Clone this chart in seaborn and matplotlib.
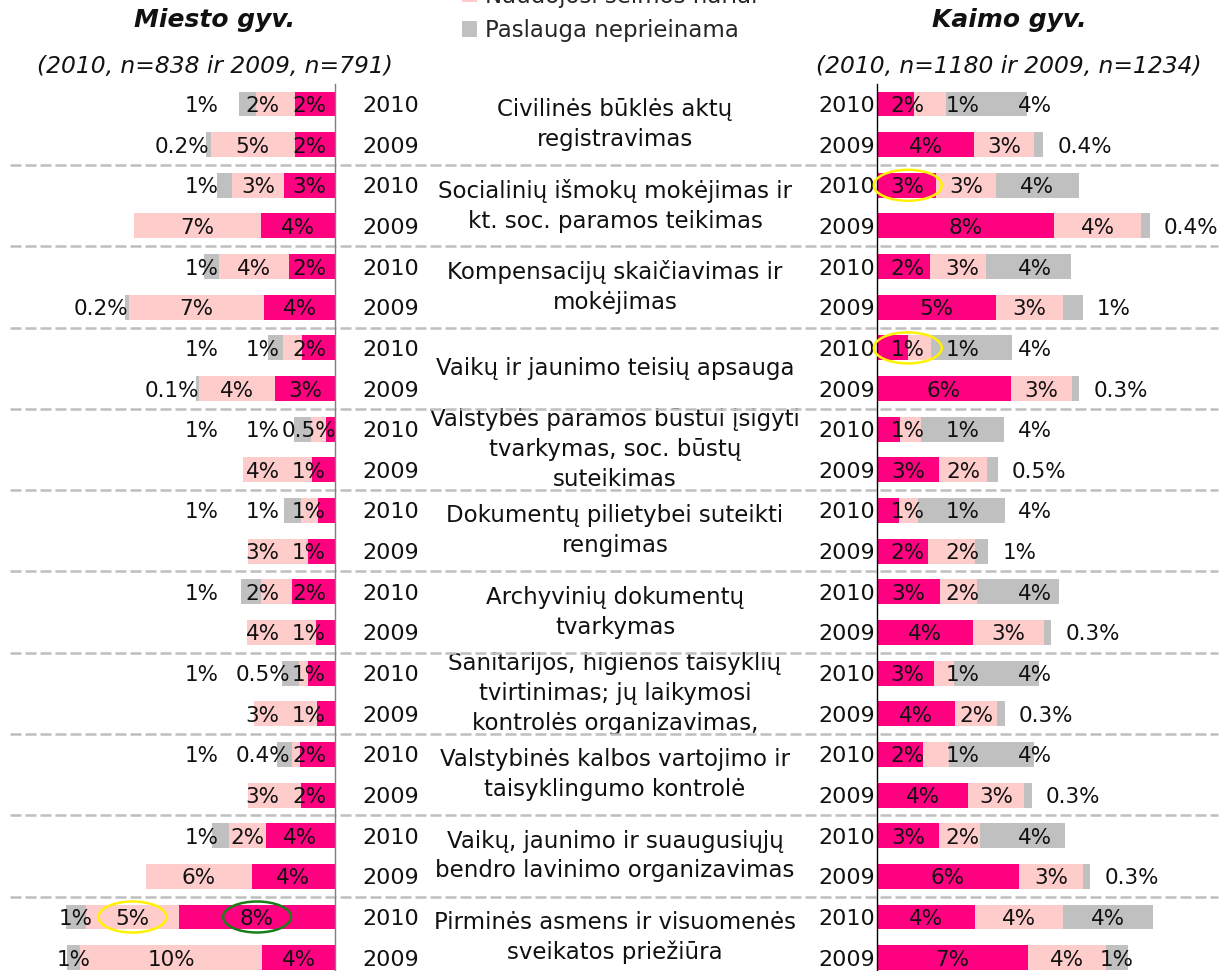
import numpy as np
import pandas as pd
import matplotlib
matplotlib.use("Agg")
import matplotlib.pyplot as plt
from matplotlib.patches import Ellipse, Patch
import seaborn as sns

# ---------------------------------------------------------------- data
categories = [
    "Civilinės būklės aktų\nregistravimas",
    "Socialinių išmokų mokėjimas ir\nkt. soc. paramos teikimas",
    "Kompensacijų skaičiavimas ir\nmokėjimas",
    "Vaikų ir jaunimo teisių apsauga",
    "Valstybės paramos būstui įsigyti\ntvarkymas, soc. būstų\nsuteikimas",
    "Dokumentų pilietybei suteikti\nrengimas",
    "Archyvinių dokumentų\ntvarkymas",
    "Sanitarijos, higienos taisyklių\ntvirtinimas; jų laikymosi\nkontrolės organizavimas,",
    "Valstybinės kalbos vartojimo ir\ntaisyklingumo kontrolė",
    "Vaikų, jaunimo ir suaugusiųjų\nbendro lavinimo organizavimas",
    "Pirminės asmens ir visuomenės\nsveikatos priežiūra",
]
years = ["2010", "2009"]
series_names = ["Naudojosi patys", "Naudojosi šeimos nariai", "Paslauga neprieinama"]

# rows: each category gives 2010 then 2009 (values in %)
city_self = [2.15, 2.15, 2.75, 3.98, 2.48, 3.82, 1.78, 3.23, 0.48, 1.24, 0.92,
             1.45, 2.32, 1.02, 1.45, 0.97, 1.88, 1.83, 3.72, 4.47, 8.40, 3.93]
city_family = [2.10, 4.55, 2.80, 6.84, 3.77, 7.25, 1.02, 4.09, 0.81, 3.72, 0.92,
               3.23, 1.67, 3.72, 0.48, 3.39, 0.43, 2.85, 1.99, 5.71, 5.01, 9.80]
city_na = [0.92, 0.22, 0.81, 0.00, 0.81, 0.23, 0.81, 0.14, 0.92, 0.00, 0.92,
           0.00, 1.08, 0.00, 0.92, 0.00, 0.81, 0.00, 0.92, 0.00, 1.08, 0.70]

rural_self = [1.68, 4.41, 2.68, 8.05, 2.41, 5.41, 1.41, 6.09, 1.05, 2.82, 1.00,
              2.32, 2.86, 4.36, 2.59, 3.55, 2.09, 4.14, 2.82, 6.45, 4.45, 6.86]
rural_family = [1.45, 2.73, 2.73, 3.95, 2.55, 3.05, 1.05, 2.77, 0.95, 2.18, 0.86,
                2.14, 1.68, 3.23, 0.91, 1.91, 1.18, 2.55, 1.86, 2.91, 4.00, 3.55]
rural_na = [3.68, 0.42, 3.77, 0.41, 3.86, 0.91, 3.68, 0.34, 3.77, 0.50, 3.95,
            0.60, 3.73, 0.34, 3.86, 0.34, 3.86, 0.34, 3.86, 0.34, 4.09, 1.00]

city_title = "Miesto gyv."
city_note = "(2010, n=838 ir 2009, n=791)"
rural_title = "Kaimo gyv."
rural_note = "(2010, n=1180 ir 2009, n=1234)"

# highlighted labels: (panel, category index, year, series index, colour)
highlights = [
    ("rural", 1, "2010", 0, "#FFF200"),
    ("rural", 3, "2010", 0, "#FFF200"),
    ("city", 10, "2010", 1, "#FFF200"),
    ("city", 10, "2010", 0, "#1A7F1A"),
]

# ---------------------------------------------------------------- style
COLORS = ["#FF0080", "#FFCCCC", "#C0C0C0"]
sns.set_theme(style="white")
plt.rcParams["font.family"] = ["DejaVu Sans"]
FS_VAL = 15.5      # value labels
FS_YEAR = 16       # year labels
FS_CAT = 16.5      # category names / legend

W, H, DPI = 1225, 971, 100
fig = plt.figure(figsize=(W / DPI, H / DPI), dpi=DPI)
fig.patch.set_facecolor("white")

n_rows = 2 * len(categories)
row_keys = [f"{g}-{y}" for g in range(len(categories)) for y in years]
row_year = [y for _ in categories for y in years]

# vertical layout (pixels from the top)
ROW0, PITCH = 104.0, 40.65
y_top = ROW0 - 0.5 * PITCH
y_bot = ROW0 + (n_rows - 0.5) * PITCH
ax_b = 1 - y_bot / H
ax_h = (y_bot - y_top) / H
YLIM = (n_rows - 0.5, -0.5)

# horizontal layout: axis origin pixel and pixels per percent
CITY_X0, CITY_PPU, CITY_MAX = 335.0, 18.57, 17.0
RURAL_X0, RURAL_PPU, RURAL_MAX = 877.0, 22.0, 15.5

ax_bg = fig.add_axes([0, ax_b, 1, ax_h])
ax_bg.set_xlim(0, 1)
ax_bg.set_ylim(*YLIM)
ax_bg.axis("off")

ax_city = fig.add_axes([(CITY_X0 - CITY_MAX * CITY_PPU) / W, ax_b,
                        CITY_MAX * CITY_PPU / W, ax_h])
ax_rural = fig.add_axes([RURAL_X0 / W, ax_b, RURAL_MAX * RURAL_PPU / W, ax_h])

LABEL_SLOTS = (1.4, 3.9, 7.2)


def fmt(v):
    return f"{v:.1f}%" if v < 0.55 else f"{v:.0f}%"


def draw_panel(ax, self_v, fam_v, na_v, side):
    df = pd.DataFrame({"row": row_keys, "self": self_v, "family": fam_v, "na": na_v})
    df["c1"] = df["self"]
    df["c2"] = df["self"] + df["family"]
    df["c3"] = df["c2"] + df["na"]
    for col, colr in zip(["c3", "c2", "c1"], COLORS[::-1]):
        sns.barplot(data=df, x=col, y="row", order=row_keys, orient="h",
                    color=colr, saturation=1, width=0.615, errorbar=None,
                    linewidth=0, edgecolor="none", ax=ax)
    ax.set_ylim(*YLIM)
    if side == "city":
        ax.set_xlim(CITY_MAX, 0)
        spine = "right"
        ax.spines["right"].set_color("#7F7F7F")
        outside_limit, ha_out, dx_out = 0.5, "right", 2
    else:
        ax.set_xlim(0, RURAL_MAX)
        spine = "left"
        ax.spines["left"].set_color("black")
        outside_limit, ha_out, dx_out = 0.95, "left", 10
    for s in ["top", "bottom", "left", "right"]:
        ax.spines[s].set_visible(s == spine)
    ax.spines[spine].set_linewidth(1.0)
    ax.set_xticks([])
    ax.set_yticks([])
    ax.set_xlabel("")
    ax.set_ylabel("")
    ax.patch.set_alpha(0)

    label_pos = {}
    for i in range(n_rows):
        vals = [df["self"][i], df["family"][i], df["na"][i]]
        start = 0.0
        for k, v in enumerate(vals):
            if v > 0:
                centre = start + v / 2
                if k == 2 and row_year[i] == "2009" and v < outside_limit:
                    ax.annotate(fmt(v), (start + v, i), xytext=(dx_out, 0),
                                textcoords="offset points", ha=ha_out,
                                va="center_baseline", fontsize=FS_VAL, color="#111111")
                    label_pos[(i, k)] = start + v
                else:
                    x = max(centre, LABEL_SLOTS[k])
                    ax.text(x, i, fmt(v), ha="center", va="center_baseline",
                            fontsize=FS_VAL, color="#111111", zorder=4)
                    label_pos[(i, k)] = x
            start += v
    return label_pos


pos_city = draw_panel(ax_city, city_self, city_family, city_na, "city")
pos_rural = draw_panel(ax_rural, rural_self, rural_family, rural_na, "rural")

# highlight ellipses around selected labels
for panel, g, yr, k, colr in highlights:
    i = 2 * g + years.index(yr)
    ax, pos, ppu = ((ax_city, pos_city, CITY_PPU) if panel == "city"
                    else (ax_rural, pos_rural, RURAL_PPU))
    ax.add_patch(Ellipse((pos[(i, k)], i), width=68 / ppu, height=31 / PITCH,
                         fill=False, edgecolor=colr, linewidth=1.8, zorder=6,
                         clip_on=False))

# year labels, category names and group separators
for i, yr in enumerate(row_year):
    ax_bg.text(362 / W, i, yr, ha="left", va="center_baseline", fontsize=FS_YEAR, color="#111111")
    ax_bg.text(875 / W, i, yr, ha="right", va="center_baseline", fontsize=FS_YEAR, color="#111111")
for g, name in enumerate(categories):
    ax_bg.text(615 / W, 2 * g + 0.5, name, ha="center", va="center", fontsize=FS_CAT,
               linespacing=1.38, color="#111111", zorder=2)
seps = [2 * g + 1.5 for g in range(len(categories) - 1)]
ax_bg.hlines(seps, 10 / W, 1218 / W, colors="#BFBFBF", linewidth=1.8,
             linestyles=(0, (4.4, 1.6)), zorder=3)

# panel titles
for xc, title, note in [(215, city_title, city_note), (1009, rural_title, rural_note)]:
    fig.text(xc / W, 1 - 20 / H, title, ha="center", va="center", fontsize=18,
             fontweight="bold", fontstyle="italic", color="#111111")
    fig.text(xc / W, 1 - 67 / H, note, ha="center", va="center", fontsize=16.8,
             fontstyle="italic", color="#111111")

# legend
handles = [Patch(facecolor=c, edgecolor="none", label=n) for c, n in zip(COLORS, series_names)]
fig.legend(handles=handles, loc="lower left", bbox_to_anchor=(462 / W, 1 - 42 / H),
           frameon=False, fontsize=FS_CAT, handlelength=0.65, handleheight=0.65,
           handletextpad=0.35, labelspacing=0.5, borderpad=0, borderaxespad=0)

fig.savefig("out.png", dpi=DPI, facecolor="white")
